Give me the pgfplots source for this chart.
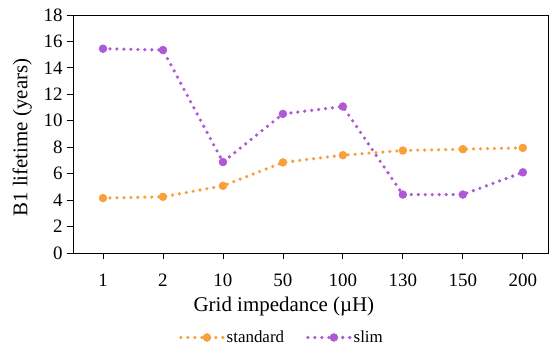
\documentclass[border=0pt]{standalone}
\usepackage{fontspec}
\setmainfont{Liberation Serif}
\usepackage{pgfplots}
\pgfplotsset{compat=1.18}
\definecolor{cstd}{RGB}{249,160,58}
\definecolor{cslim}{RGB}{175,88,214}
\pgfplotstableread{
x y
0 4.15
1 4.25
2 5.08
3 6.85
4 7.40
5 7.75
6 7.85
7 7.95
}\standard
\pgfplotstableread{
x y
0 15.45
1 15.35
2 6.88
3 10.52
4 11.08
5 4.42
6 4.42
7 6.10
}\slim
\begin{document}
\begin{tikzpicture}
\begin{axis}[name=ax, scale only axis, width=475bp, height=238bp,
  xmin=-0.5, xmax=7.42, ymin=0, ymax=18, ytick={0,2,...,18},
  xtick={0,...,7}, xticklabels={1,2,10,50,100,130,150,200},
  xtick pos=bottom, ytick pos=left,
  tick align=outside, major tick length=6bp,
  tick style={black, line width=0.8pt},
  axis line style={line width=0.8pt},
  /pgf/number format/assume math mode=true,
  tick label style={font=\fontsize{19}{19}\selectfont},
  xticklabel style={anchor=center, yshift=-21bp},
  yticklabel style={anchor=east, xshift=-1bp},
  xlabel={Grid impedance (µH)}, ylabel={B1 lifetime (years)},
  label style={font=\fontsize{21}{21}\selectfont},
  xlabel style={at={(axis description cs:0.444,-0.225)}, anchor=center},
  ylabel style={at={(axis description cs:-0.107,0.485)}, anchor=center},
  every axis plot/.append style={line width=3.6pt, dash pattern=on 0pt off 7pt, line cap=round, mark=*, mark size=3.9bp, mark options={solid, line width=0.6pt}},
  legend columns=2,
  legend style={draw=none, at={(0.44,-0.355)}, anchor=center, font=\fontsize{17}{17}\selectfont,
    /tikz/every even column/.append style={column sep=20bp}},
  legend image code/.code={\draw[#1, mark repeat=2, mark phase=2] plot coordinates {(0bp,0bp) (26bp,0bp) (42bp,0bp)};},
]
\addplot[color=cstd] table[x=x,y=y] {\standard};
\addlegendentry{standard}
\addplot[color=cslim] table[x=x,y=y] {\slim};
\addlegendentry{slim}
\end{axis}
\pgfresetboundingbox
\path[use as bounding box] (ax.south west) ++(-73bp,-95bp) rectangle ++(549bp,348bp);
\end{tikzpicture}
\end{document}
